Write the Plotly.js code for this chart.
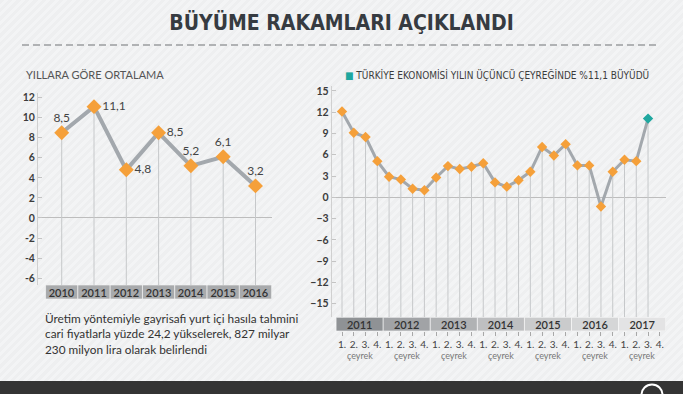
<!DOCTYPE html>
<html>
<head>
<meta charset="utf-8">
<script src="https://cdn.plot.ly/plotly-3.0.1.min.js"></script>
<style>
html,body{margin:0;padding:0;}
body{width:683px;height:394px;overflow:hidden;
background:repeating-linear-gradient(135deg,#eeeff0 0px,#eeeff0 3px,#f3f4f5 3px,#f3f4f5 6px);}
#chart{width:683px;height:394px;}
</style>
</head>
<body>
<div id="chart"></div>
<script>
// ---- data ----
var years = ['2010','2011','2012','2013','2014','2015','2016'];
var annualGrowth = [8.5, 11.1, 4.8, 8.5, 5.2, 6.1, 3.2];
var annualLabelPos = ['top center','middle right','middle right','middle right','top center','top center','top center'];

var quarterYears = ['2011','2012','2013','2014','2015','2016','2017'];
var quarterlyGrowth = [12.1, 9.1, 8.5, 5.1,
                       2.9, 2.5, 1.2, 1.0,
                       2.8, 4.4, 4.0, 4.3,
                       4.8, 2.1, 1.5, 2.4,
                       3.6, 7.1, 5.9, 7.5,
                       4.5, 4.5, -1.3, 3.6,
                       5.3, 5.1, 11.1];
var quarterLabels = ['1.','2.','3.','4.'];
var quarterWord = 'çeyrek';
var yearBandColors = ['#8f9295','#a1a3a6','#b0b2b4','#bebfc1','#cacbcc','#d5d6d7','#e3e3e4'];

// ---- styling ----
var orange = '#f5a03a', teal = '#1fa79f', lineGray = '#a3a8ad', dropGray = '#c6c8ca';
var fontMain = 'Lato, "Open Sans", sans-serif';
var leftYMin = -6.68, rightYMin = -16.93;

function dropLines(xs, ys, yMin){
  var dx = [], dy = [];
  xs.forEach(function(x,i){ dx.push(x,x,null); dy.push(ys[i], yMin, null); });
  return {x:dx, y:dy};
}

var leftX = years.map(function(_,i){return i;});
var rightX = quarterlyGrowth.map(function(_,i){return i;});
var leftDrop = dropLines(leftX, annualGrowth, leftYMin);
var rightDrop = dropLines(rightX, quarterlyGrowth, rightYMin);

var traces = [
  {type:'scatter', mode:'lines', x:leftDrop.x, y:leftDrop.y, xaxis:'x', yaxis:'y',
   line:{color:dropGray, width:1}, hoverinfo:'skip', showlegend:false},
  {type:'scatter', mode:'lines+markers+text', x:leftX, y:annualGrowth, xaxis:'x', yaxis:'y',
   line:{color:lineGray, width:4},
   marker:{symbol:'diamond', size:11.5, color:orange},
   text:annualGrowth.map(function(v){return String(v).replace('.',',');}),
   textposition:annualLabelPos,
   textfont:{family:fontMain, size:12, color:'#444'},
   cliponaxis:false, showlegend:false},
  {type:'bar', x:leftX, y:years.map(function(){return 1;}), width:1, xaxis:'x2', yaxis:'y2',
   marker:{color:'#a8aaac', line:{color:'rgba(255,255,255,0.55)', width:1}},
   text:years, textposition:'inside', insidetextanchor:'middle', constraintext:'none',
   textfont:{family:fontMain, size:11, color:'#333', weight:600},
   hoverinfo:'skip', showlegend:false},

  {type:'scatter', mode:'lines', x:rightDrop.x, y:rightDrop.y, xaxis:'x3', yaxis:'y3',
   line:{color:dropGray, width:1}, hoverinfo:'skip', showlegend:false},
  {type:'scatter', mode:'lines+markers', x:rightX, y:quarterlyGrowth, xaxis:'x3', yaxis:'y3',
   line:{color:lineGray, width:3},
   marker:{symbol:'diamond', size:8,
           color:quarterlyGrowth.map(function(_,i){return i===quarterlyGrowth.length-1?teal:orange;})},
   cliponaxis:false, showlegend:false},
  {type:'bar', x:quarterYears.map(function(_,i){return i*4+1.5;}),
   y:quarterYears.map(function(){return 1;}), width:4, xaxis:'x4', yaxis:'y4',
   marker:{color:yearBandColors, line:{color:'rgba(255,255,255,0.55)', width:1}},
   text:quarterYears, textposition:'inside', insidetextanchor:'middle', constraintext:'none',
   textfont:{family:fontMain, size:11, color:'#333', weight:600},
   hoverinfo:'skip', showlegend:false}
];

var qTickVals = [], qTickText = [];
quarterYears.forEach(function(_,i){ quarterLabels.forEach(function(q,j){ qTickVals.push(i*4+j); qTickText.push(q); }); });

var yTickFont = {family:fontMain, size:10.5, color:'#3c3c3c', weight:700};

var annotations = [
  {xref:'paper', yref:'paper', x:24/683, y:1-75/394, xanchor:'left', yanchor:'middle', showarrow:false,
   text:'YILLARA GÖRE ORTALAMA', font:{family:fontMain, size:11, color:'#555'}},
  {xref:'paper', yref:'paper', x:343/683, y:1-75/394, xanchor:'left', yanchor:'middle', showarrow:false,
   text:'<span style="color:'+teal+'">■</span> TÜRKİYE EKONOMİSİ YILIN ÜÇÜNCÜ ÇEYREĞİNDE %11,1 BÜYÜDÜ',
   font:{family:'"DejaVu Sans Condensed", "Open Sans", sans-serif', size:10, color:'#3c3c3c'}},
  {xref:'paper', yref:'paper', x:43/683, y:1-334/394, xanchor:'left', yanchor:'middle', align:'left', showarrow:false,
   text:'Üretim yöntemiyle gayrisafi yurt içi hasıla tahmini<br>cari fiyatlarla yüzde 24,2 yükselerek, 827 milyar<br>230 milyon lira olarak belirlendi',
   font:{family:fontMain, size:11.8, color:'#333'}}
];
quarterYears.forEach(function(_,i){
  annotations.push({xref:'x4', yref:'paper', x:i*4+1.5, y:1-355/394, yanchor:'middle', showarrow:false,
    text:quarterWord, font:{family:fontMain, size:9, color:'#777'}});
});

var layout = {
  width:683, height:394,
  margin:{l:0, r:0, t:0, b:0},
  paper_bgcolor:'rgba(0,0,0,0)', plot_bgcolor:'rgba(0,0,0,0)',
  showlegend:false,
  title:{text:'BÜYÜME RAKAMLARI AÇIKLANDI', x:0.5, xanchor:'center', y:1-23/394, yanchor:'middle',
         font:{family:'"DejaVu Sans Condensed", "Liberation Sans Narrow", sans-serif', size:21, color:'#363b41', weight:700}},
  xaxis:{domain:[38/683, 271.65/683], range:[-0.734, 6.5], anchor:'y', showticklabels:false, ticks:'',
         showgrid:false, zeroline:false, showline:false, fixedrange:true},
  yaxis:{domain:[1-285/394, 1-92.6/394], range:[leftYMin, 12.5], anchor:'x', tickvals:[-6,-4,-2,0,2,4,6,8,10,12],
         ticktext:['-6','-4','-2','0','2','4','6','8','10','12'],
         tickfont:yTickFont, ticks:'inside', ticklen:4, tickcolor:'#c4c4c4', showline:true, linecolor:'#d0d0d0', linewidth:1,
         showgrid:false, zeroline:true, zerolinecolor:'#bdbdbd', zerolinewidth:1, fixedrange:true},
  xaxis2:{domain:[38/683, 271.65/683], range:[-0.734, 6.5], anchor:'y2', showticklabels:false, ticks:'',
          showgrid:false, zeroline:false, showline:false, fixedrange:true},
  yaxis2:{domain:[1-299/394, 1-285/394], range:[0,1], anchor:'x2', visible:false, fixedrange:true},

  xaxis3:{domain:[331.7/683, 665.7/683], range:[-0.875, 27.5], anchor:'y3', showticklabels:false, ticks:'',
          showgrid:false, zeroline:false, showline:false, fixedrange:true},
  yaxis3:{domain:[1-317.3/394, 1-86/394], range:[rightYMin, 15.7], anchor:'x3',
          tickvals:[-15,-12,-9,-6,-3,0,3,6,9,12,15],
          tickfont:yTickFont, ticks:'inside', ticklen:4, tickcolor:'#c4c4c4', showline:true, linecolor:'#d0d0d0', linewidth:1,
          showgrid:false, zeroline:true, zerolinecolor:'#bdbdbd', zerolinewidth:1, fixedrange:true},
  xaxis4:{domain:[331.7/683, 665.7/683], range:[-0.875, 27.5], anchor:'y4', tickvals:qTickVals, ticktext:qTickText,
          ticks:'outside', ticklen:4, tickcolor:'#a8a8a8', tickfont:{family:fontMain, size:10, color:'#444'},
          showgrid:false, zeroline:false, showline:false, fixedrange:true},
  yaxis4:{domain:[1-331/394, 1-317.3/394], range:[0,1], anchor:'x4', visible:false, fixedrange:true},

  annotations:annotations,
  shapes:[
    {type:'line', xref:'paper', yref:'paper', x0:22/683, x1:658/683, y0:1-45/394, y1:1-45/394,
     line:{color:'#b0b2b4', width:2, dash:'7px,4px'}},
    {type:'rect', xref:'paper', yref:'paper', x0:0, x1:1, y0:0, y1:13/394, fillcolor:'#343434', line:{width:0}, layer:'above'},
    {type:'circle', xref:'paper', yref:'paper', x0:641.5/683, x1:662.5/683, y0:1-405/394, y1:1-384.5/394,
     line:{color:'#ffffff', width:2}, layer:'above'}
  ]
};

Plotly.newPlot('chart', traces, layout, {displayModeBar:false, staticPlot:true});
</script>
</body>
</html>
